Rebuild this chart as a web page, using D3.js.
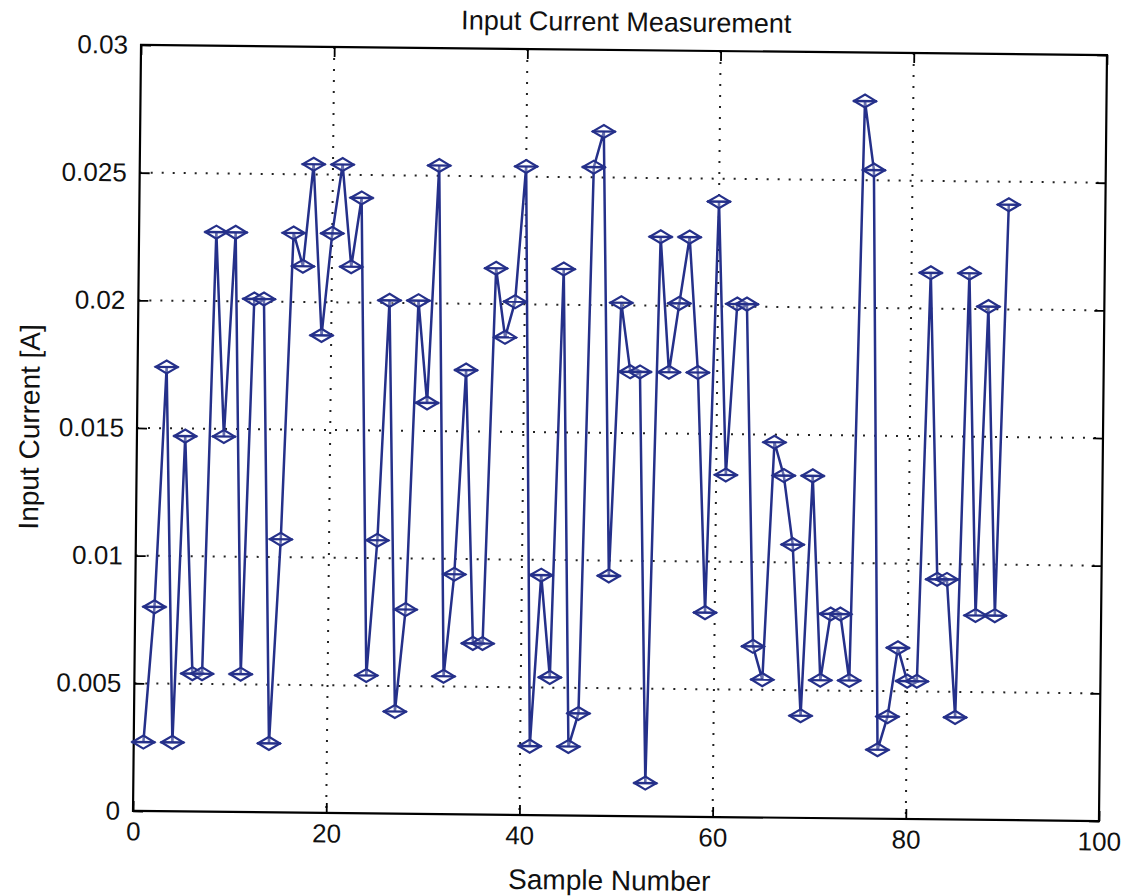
<!DOCTYPE html>
<html><head><meta charset="utf-8">
<script src="https://cdnjs.cloudflare.com/ajax/libs/d3/7.8.5/d3.min.js"></script>
<style>body{margin:0;background:#fff}svg{display:block}</style>
</head><body>
<script>
const sampleNumbers = d3.range(1, 91);
const inputCurrent = [
0.0027,0.0080,0.0174,0.0027,0.0147,0.0054,0.0054,0.0227,0.0147,0.0227,
0.0054,0.0201,0.0201,0.0027,0.0107,0.0227,0.0214,0.0254,0.0187,0.0227,
0.0254,0.0214,0.0241,0.0054,0.0107,0.0201,0.0040,0.0080,0.0201,0.0161,
0.0254,0.0054,0.0094,0.0174,0.0067,0.0067,0.0214,0.0187,0.0201,0.0254,
0.0027,0.0094,0.0054,0.0214,0.0027,0.0040,0.0254,0.0268,0.0094,0.0201,
0.0174,0.0174,0.0013,0.0227,0.0174,0.0201,0.0227,0.0174,0.0080,0.0241,
0.0134,0.0201,0.0201,0.0067,0.0054,0.0147,0.0134,0.0107,0.0040,0.0134,
0.0054,0.0080,0.0080,0.0054,0.0281,0.0254,0.0027,0.0040,0.0067,0.0054,
0.0054,0.0214,0.0094,0.0094,0.0040,0.0214,0.0080,0.0201,0.0080,0.0241];
const xTicks = [0, 20, 40, 60, 80, 100];
const yTicks = [0, 0.005, 0.01, 0.015, 0.02, 0.025, 0.03];
const yTickLabels = ["0", "0.005", "0.01", "0.015", "0.02", "0.025", "0.03"];
const titleText = "Input Current Measurement";
const xLabel = "Sample Number";
const yLabel = "Input Current [A]";

const W = 1130, H = 896;
const L = 137, T = 50, PW = 966, PH = 766;
const color = "#25308a";
const font = "'Liberation Sans',Arial,sans-serif";

const svg = d3.select("body").append("svg").attr("width", W).attr("height", H);
svg.append("rect").attr("width", W).attr("height", H).attr("fill", "#fff");
const root = svg.append("g").attr("transform", `rotate(0.6 ${L + PW/2} ${T + PH/2})`);

const x = d3.scaleLinear().domain([0, 100]).range([L, L + PW]);
const y = d3.scaleLinear().domain([0, 0.03]).range([T + PH, T]);

// grid
const grid = root.append("g").attr("stroke", "#222").attr("stroke-width", 2).attr("stroke-dasharray", "2,9");
grid.selectAll(".gx").data(xTicks.slice(1, -1)).join("line")
  .attr("x1", d => x(d)).attr("x2", d => x(d)).attr("y1", T).attr("y2", T + PH);
grid.selectAll(".gy").data(yTicks.slice(1, -1)).join("line")
  .attr("y1", d => y(d)).attr("y2", d => y(d)).attr("x1", L).attr("x2", L + PW);

// axes (ticks inside)
const axB = root.append("g").attr("transform", `translate(0,${T + PH})`)
  .call(d3.axisBottom(x).tickValues(xTicks).tickSize(-10).tickPadding(11).tickFormat(d3.format("d")));
const axT = root.append("g").attr("transform", `translate(0,${T})`)
  .call(d3.axisTop(x).tickValues(xTicks).tickSize(-10).tickFormat(""));
const axL = root.append("g").attr("transform", `translate(${L},0)`)
  .call(d3.axisLeft(y).tickValues(yTicks).tickSize(-10).tickPadding(13).tickFormat((d, i) => yTickLabels[i]));
const axR = root.append("g").attr("transform", `translate(${L + PW},0)`)
  .call(d3.axisRight(y).tickValues(yTicks).tickSize(-10).tickFormat(""));
[axB, axT, axL, axR].forEach(a => {
  a.select(".domain").remove();
  a.selectAll("line").attr("stroke", "#000").attr("stroke-width", 1.8);
  a.selectAll("text").attr("font-family", font).attr("font-size", 26).attr("fill", "#111");
});
root.append("rect").attr("x", L).attr("y", T).attr("width", PW).attr("height", PH)
  .attr("fill", "none").attr("stroke", "#000").attr("stroke-width", 2.2);

// line
const pts = sampleNumbers.map((s, i) => [s, inputCurrent[i]]);
root.append("path").datum(pts)
  .attr("fill", "none").attr("stroke", color).attr("stroke-width", 2.5)
  .attr("d", d3.line().x(d => x(d[0])).y(d => y(d[1])));

// markers: diamond with horizontal bar
const mk = root.append("g").selectAll("g").data(pts).join("g")
  .attr("transform", d => `translate(${x(d[0])},${y(d[1])})`);
mk.append("path").attr("d", "M-11,0 L0,-6.5 L11,0 L0,6.5 Z")
  .attr("fill", "#fff").attr("fill-opacity", 0.3).attr("stroke", color).attr("stroke-width", 2.2);
mk.append("line").attr("x1", -12).attr("x2", 12).attr("stroke", color).attr("stroke-width", 2.4);

// labels
root.append("text").attr("x", L + PW/2 + 2).attr("y", 31).attr("text-anchor", "middle")
  .attr("font-family", font).attr("font-size", 27).attr("fill", "#111").text(titleText);
root.append("text").attr("x", L + PW/2 - 6).attr("y", 890).attr("text-anchor", "middle")
  .attr("font-family", font).attr("font-size", 28).attr("fill", "#111").text(xLabel);
root.append("text").attr("transform", `translate(39,${T + PH/2}) rotate(-90)`).attr("text-anchor", "middle")
  .attr("font-family", font).attr("font-size", 28).attr("fill", "#111").text(yLabel);
</script>
</body></html>
